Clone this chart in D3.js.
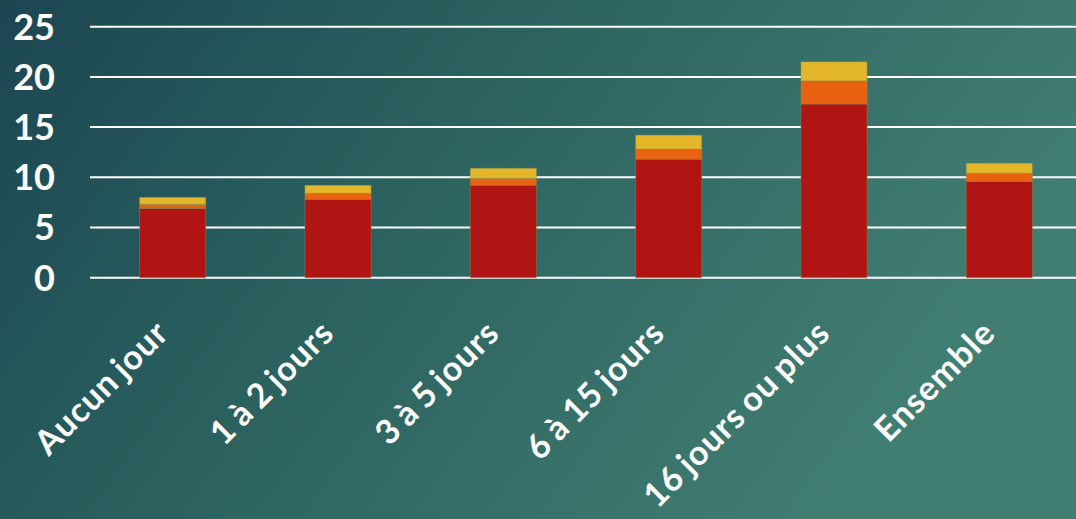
<!DOCTYPE html>
<html>
<head>
<meta charset="utf-8">
<script src="https://cdn.jsdelivr.net/npm/d3@7"></script>
<style>
  html, body { margin: 0; padding: 0; }
  body { width: 1076px; height: 519px; overflow: hidden; }
</style>
</head>
<body>
<script>
// categories and stacked values
var categories = ["Aucun jour", "1 à 2 jours", "3 à 5 jours", "6 à 15 jours", "16 jours ou plus", "Ensemble"];
var serieRouge  = [6.9, 7.8, 9.2, 11.8, 17.3, 9.6];
var serieOrange = [0.4, 0.6, 0.7, 1.0, 2.3, 0.8];
var serieJaune  = [0.7, 0.8, 1.0, 1.4, 1.9, 1.0];
var yTicks = [0, 5, 10, 15, 20, 25];

var W = 1076, H = 519;
var colors = ["#b01513", "#e86212", "#e4b72a"];

var svg = d3.select("body").append("svg")
  .attr("width", W).attr("height", H);

// background
var grad = svg.append("defs").append("linearGradient")
  .attr("id", "bg").attr("x1", "0").attr("y1", "0").attr("x2", "1").attr("y2", "0.35");
grad.append("stop").attr("offset", "0").attr("stop-color", "#1b4652");
grad.append("stop").attr("offset", "0.45").attr("stop-color", "#2b625f");
grad.append("stop").attr("offset", "1").attr("stop-color", "#417e72");
svg.append("rect").attr("width", W).attr("height", H).attr("fill", "url(#bg)");

var x = d3.scaleBand().domain(categories).range([90, 1082])
  .paddingInner(0.6).paddingOuter(0.3);
var y = d3.scaleLinear().domain([0, 25]).range([277.7, 26.7]);

// gridlines
svg.selectAll("line.grid")
  .data(yTicks)
  .enter()
  .append("line")
  .attr("class", "grid")
  .attr("x1", 90).attr("x2", W)
  .attr("y1", function (d) { return y(d); })
  .attr("y2", function (d) { return y(d); })
  .attr("stroke", "#ffffff")
  .attr("stroke-width", 2);

// y labels
svg.selectAll("text.ylab")
  .data(yTicks)
  .enter()
  .append("text")
  .attr("class", "ylab")
  .attr("x", 55)
  .attr("y", function (d) { return y(d); })
  .attr("dy", "0.36em")
  .attr("text-anchor", "end")
  .attr("fill", "#ffffff")
  .style("font-family", "Lato, 'Open Sans', sans-serif")
  .style("font-weight", 700)
  .style("font-size", "36px")
  .text(function (d) { return d; });

// stack the three series
var rows = categories.map(function (c, i) {
  return { cat: c, a: serieRouge[i], b: serieOrange[i], c: serieJaune[i] };
});
var stacked = d3.stack().keys(["a", "b", "c"])(rows);

svg.selectAll("g.serie")
  .data(stacked)
  .enter()
  .append("g")
  .attr("class", "serie")
  .attr("fill", function (d, i) { return colors[i]; })
  .selectAll("rect")
  .data(function (d) { return d; })
  .enter()
  .append("rect")
  .attr("x", function (d) { return x(d.data.cat); })
  .attr("width", x.bandwidth())
  .attr("y", function (d) { return y(d[1]); })
  .attr("height", function (d) { return y(d[0]) - y(d[1]); })
  .attr("stroke", "#8a8f50")
  .attr("stroke-opacity", 0.45)
  .attr("stroke-width", 1);

// rotated category labels
svg.selectAll("text.xlab")
  .data(categories)
  .enter()
  .append("text")
  .attr("class", "xlab")
  .attr("text-anchor", "end")
  .attr("transform", function (d) {
    return "translate(" + (x(d) + x.bandwidth() / 2 - 2) + ",335) rotate(-45)";
  })
  .attr("fill", "#ffffff")
  .style("font-family", "Lato, 'Open Sans', sans-serif")
  .style("font-weight", 700)
  .style("font-size", "34px")
  .style("letter-spacing", "1px")
  .style("word-spacing", "-3px")
  .text(function (d) { return d; });
</script>
</body>
</html>
